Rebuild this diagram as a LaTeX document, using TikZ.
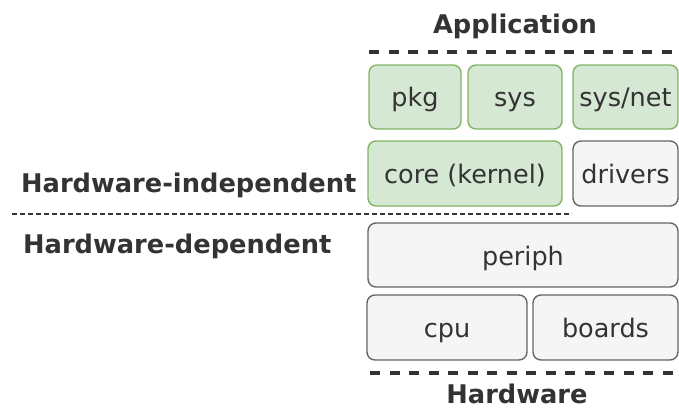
\documentclass[tikz,border=0pt]{standalone}
\usepackage{fontspec}
\setmainfont{DejaVu Sans}
\definecolor{greenfill}{HTML}{D5E8D4}
\definecolor{greenline}{HTML}{82B366}
\definecolor{greyfill}{HTML}{F5F5F5}
\definecolor{greyline}{HTML}{666666}
\definecolor{inkcol}{HTML}{333333}
\tikzset{
  layerbox/.style={rounded corners=8pt, line width=1.4pt, inner sep=0pt},
  greenbox/.style={layerbox, fill=greenfill, draw=greenline},
  greybox/.style={layerbox, fill=greyfill, draw=greyline},
  boxtext/.style={font=\fontsize{25.5}{30}\selectfont, text=inkcol, anchor=base, inner sep=0pt},
  title/.style={font=\fontsize{25.7}{30}\selectfont\bfseries, text=inkcol, anchor=base, inner sep=0pt},
  bigdash/.style={line width=3.2pt, dash pattern=on 10pt off 9.5pt, draw=inkcol},
  smalldash/.style={line width=1.4pt, dash pattern=on 5pt off 3pt, draw=inkcol},
}
\begin{document}
\begin{tikzpicture}[x=1pt, y=-1pt]
  \useasboundingbox (0,0) rectangle (679,410);

  % application-side layers
  \draw[greenbox] (369,65) rectangle (461,129);
  \node[boxtext] (pkg) at (415,106.7) {pkg};
  \draw[greenbox] (468,65) rectangle (562,129);
  \node[boxtext] (sys) at (515,106.7) {sys};
  \draw[greenbox] (573,65) rectangle (678,129);
  \node[boxtext] (sysnet) at (625.5,106.7) {sys/net};

  \draw[greenbox] (368,141) rectangle (562,206);
  \node[boxtext] (core) at (465,183) {core (kernel)};
  \draw[greybox] (573,141) rectangle (678,206);
  \node[boxtext] (drivers) at (625.5,183) {drivers};

  % hardware-side layers
  \draw[greybox] (368,223) rectangle (678,287);
  \node[boxtext] (periph) at (523,265) {periph};

  \draw[greybox] (367,295) rectangle (527,360);
  \node[boxtext] (cpu) at (447,337) {cpu};
  \draw[greybox] (533,295) rectangle (678,360);
  \node[boxtext] (boards) at (605.5,337) {boards};

  % boundaries
  \coordinate (topl) at (369,52);
  \coordinate (topr) at (679,52);
  \draw[bigdash] (topl) -- (topr);
  \coordinate (botl) at (370,373);
  \coordinate (botr) at (679,373);
  \draw[bigdash] (botl) -- (botr);
  \coordinate (midl) at (12,214);
  \coordinate (midr) at (572,214);
  \draw[smalldash] (midl) -- (midr);

  % labels
  \node[title] (app) at (515,33) {Application};
  \node[title] (hw) at (517,403) {Hardware};
  \node[title, anchor=base west] (hwind) at (21,192) {Hardware-independent};
  \node[title, anchor=base west] (hwdep) at (23,253) {Hardware-dependent};
\end{tikzpicture}
\end{document}
